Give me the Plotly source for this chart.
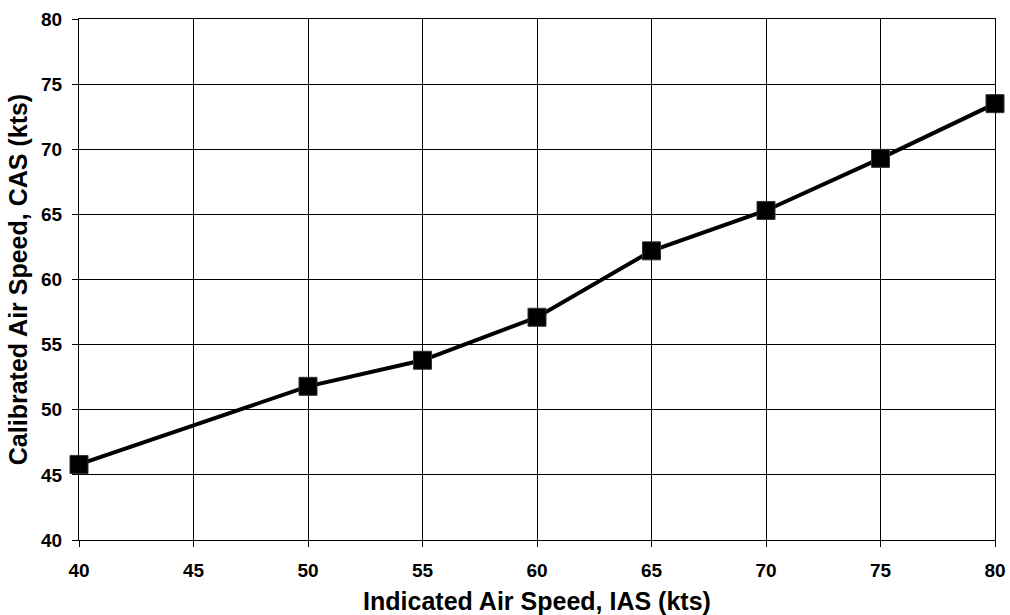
import plotly.graph_objects as go

ias = [40, 50, 55, 60, 65, 70, 75, 80]
cas = [45.8, 51.8, 53.8, 57.1, 62.2, 65.3, 69.3, 73.5]
x_ticks = [40, 45, 50, 55, 60, 65, 70, 75, 80]
y_ticks = [40, 45, 50, 55, 60, 65, 70, 75, 80]
x_title = "Indicated Air Speed, IAS (kts)"
y_title = "Calibrated Air Speed, CAS (kts)"

FONT = "Liberation Sans, Arial, sans-serif"

fig = go.Figure()
fig.add_trace(go.Scatter(
    x=ias, y=cas, mode="lines+markers",
    line=dict(color="black", width=4),
    marker=dict(symbol="square", size=18, color="black",
                line=dict(color="#333333", width=1)),
    cliponaxis=False,
    showlegend=False,
))

axis_common = dict(
    showgrid=True, gridcolor="black", gridwidth=1,
    showline=True, linecolor="black", linewidth=1, mirror=True,
    ticks="outside", ticklen=6, tickcolor="black", tickwidth=1,
    tickfont=dict(family=FONT, size=19, color="black", weight="bold"),
    zeroline=False, automargin=False,
)

fig.update_xaxes(
    range=[40, 80], tickvals=x_ticks, ticktext=[str(v) for v in x_ticks],
    title=dict(text=x_title, font=dict(family=FONT, size=25, color="black", weight="bold"), standoff=17),
    ticklabelstandoff=7,
    **axis_common,
)
fig.update_yaxes(
    range=[40, 80], tickvals=y_ticks, ticktext=[str(v) for v in y_ticks],
    title=dict(text=y_title, font=dict(family=FONT, size=25, color="black", weight="bold"), standoff=6),
    ticklabelstandoff=6,
    **axis_common,
)

fig.update_layout(
    width=1010, height=615,
    margin=dict(l=79, r=15, t=19, b=75),
    paper_bgcolor="white", plot_bgcolor="white",
    font=dict(family=FONT, color="black"),
)

fig.write_html(
    "out.html",
    config={"displayModeBar": False},
    post_script="document.body.style.margin='0';document.body.style.overflow='hidden';",
)
